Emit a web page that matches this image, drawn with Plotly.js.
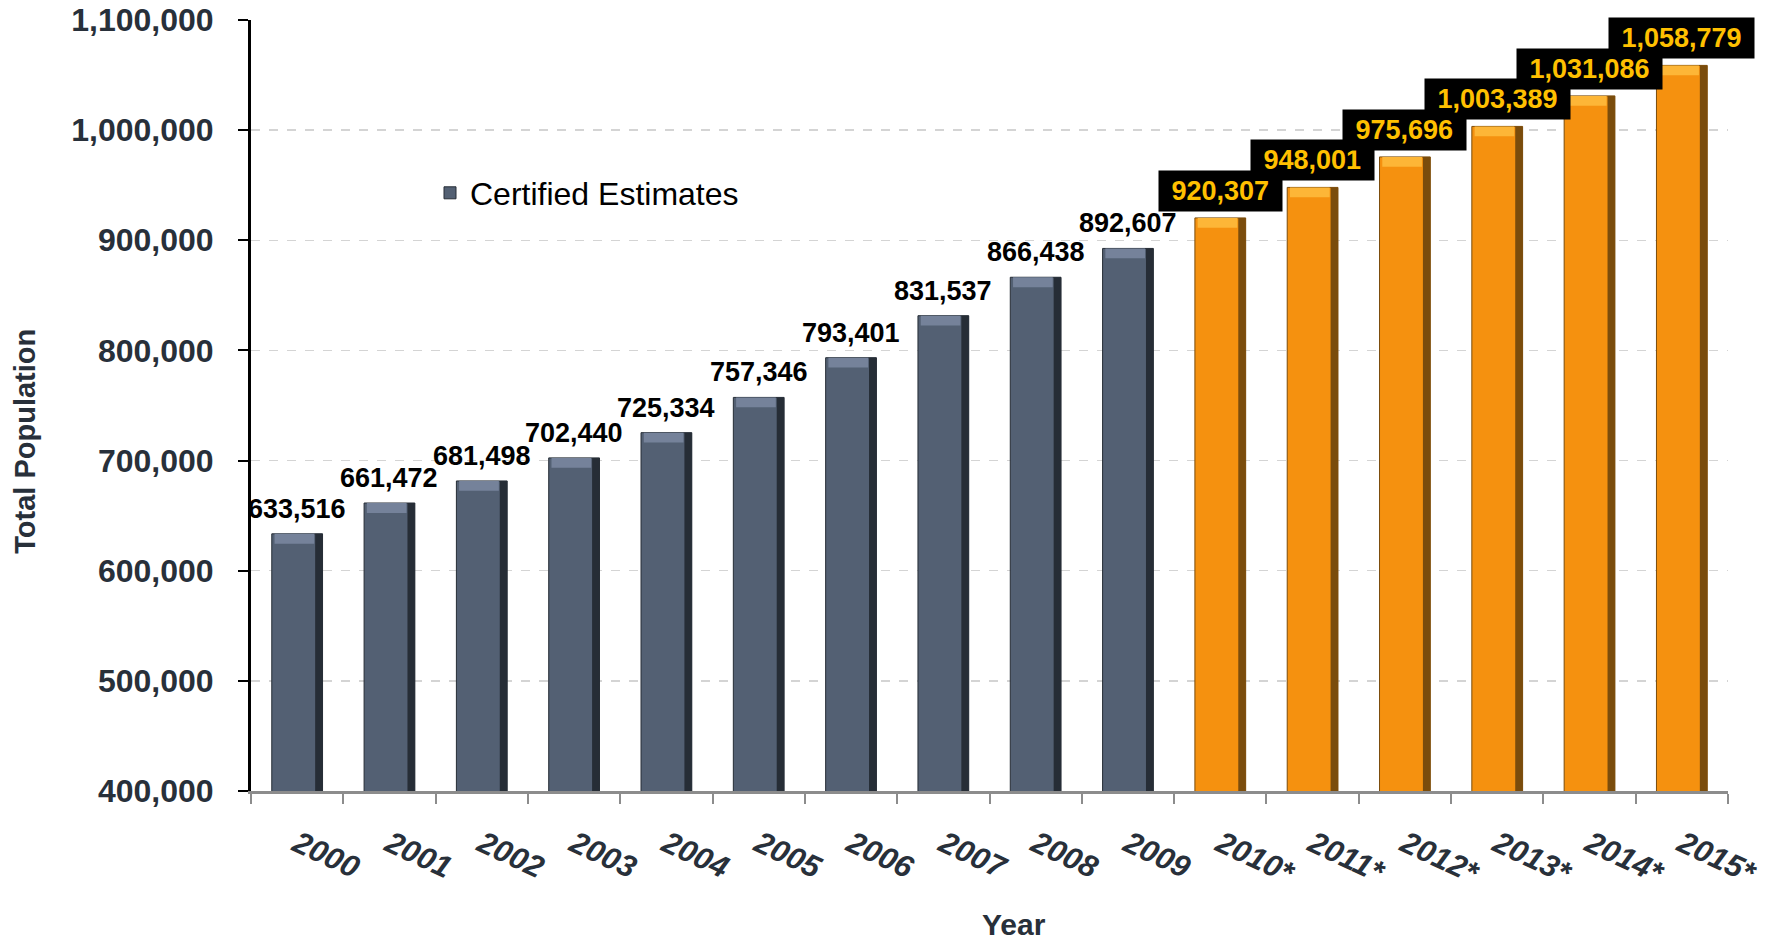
<!DOCTYPE html>
<html>
<head>
<meta charset="utf-8">
<script src="https://cdn.plot.ly/plotly-3.0.1.min.js"></script>
<style>html,body{margin:0;padding:0;background:#fff;}#chart{width:1781px;height:945px;}</style>
</head>
<body>
<div id="chart"></div>
<script>
// ---- data ----
const certifiedYears = ["2000","2001","2002","2003","2004","2005","2006","2007","2008","2009"];
const certifiedValues = [633516, 661472, 681498, 702440, 725334, 757346, 793401, 831537, 866438, 892607];
const projectedYears = ["2010*","2011*","2012*","2013*","2014*","2015*"];
const projectedValues = [920307, 948001, 975696, 1003389, 1031086, 1058779];
const allYears = certifiedYears.concat(projectedYears);
const yTickValues = [400000, 500000, 600000, 700000, 800000, 900000, 1000000, 1100000];

// ---- style ----
const BAR_W = 0.55;
const EDGE_W = 0.08;
const BEVEL = 9000;
const TEXT_DARK = "#28303a";
const FONT = "Liberation Sans, Arial, sans-serif";
const fmt = v => v.toLocaleString("en-US");

function barSet(xs, ys, main, edge, top, name, showLegend) {
  return [
    {type: "bar", x: xs, y: ys, name: name, showlegend: showLegend, width: BAR_W,
     marker: {color: main, line: {color: edge, width: 1}}, hoverinfo: "x+y"},
    {type: "bar", x: xs, y: ys, showlegend: false, width: EDGE_W, offset: BAR_W/2 - EDGE_W,
     marker: {color: edge, line: {width: 0}}, hoverinfo: "skip"},
    {type: "bar", x: xs, y: ys.map(() => BEVEL), base: ys.map(v => v - BEVEL), showlegend: false,
     width: BAR_W - 0.12, offset: -BAR_W/2 + 0.03, marker: {color: top, line: {width: 0}}, hoverinfo: "skip"}
  ];
}

const traces = [].concat(
  barSet(certifiedYears, certifiedValues, "#536073", "#262d36", "#75829a", "Certified Estimates", true),
  barSet(projectedYears, projectedValues, "#F5910F", "#7a4c0c", "#FDB637", "Projected", false)
);

// category position of each year on the category axis
const catIndex = yr => allYears.indexOf(yr);

const annotations = [];
certifiedYears.forEach((yr, i) => {
  annotations.push({x: catIndex(yr), y: certifiedValues[i], text: fmt(certifiedValues[i]), showarrow: false,
    xanchor: "center", yanchor: "bottom", yshift: 8, font: {family: FONT, size: 27, color: "#000", weight: "bold"}});
});
projectedYears.forEach((yr, i) => {
  annotations.push({x: catIndex(yr), y: projectedValues[i], text: "&nbsp;<b>" + fmt(projectedValues[i]) + "</b>&nbsp;", showarrow: false,
    xanchor: "center", yanchor: "bottom", yshift: 6, bgcolor: "#000", borderpad: 5,
    font: {family: FONT, size: 27, color: "#FFC000"}});
});
annotations.push({xref: "paper", yref: "paper", x: -0.153, y: 0.453, xanchor: "center", yanchor: "middle",
  text: "<b>Total Population</b>", textangle: -90,
  showarrow: false, font: {family: FONT, size: 29, color: TEXT_DARK}});
annotations.push({xref: "paper", yref: "paper", x: 0.5166, y: -0.1735, xanchor: "center", yanchor: "middle",
  text: "<b>Year</b>", showarrow: false, font: {family: FONT, size: 30, color: TEXT_DARK}});

const layout = {
  width: 1781, height: 945,
  margin: {l: 251, r: 53, t: 20, b: 154},
  paper_bgcolor: "#fff", plot_bgcolor: "#fff",
  barmode: "overlay",
  showlegend: true,
  legend: {x: 0.1212, y: 0.7756, yanchor: "middle", xanchor: "left", bgcolor: "rgba(0,0,0,0)",
    font: {family: FONT, size: 32, color: "#000"}},
  xaxis: {
    type: "category", categoryorder: "array", categoryarray: allYears,
    range: [-0.5, allYears.length - 0.5], autorange: false,
    tickangle: 25, tickson: "boundaries", ticks: "outside", ticklen: 10, tickwidth: 2, tickcolor: "#8c8c8c",
    showline: true, linecolor: "#8c8c8c", linewidth: 3, showgrid: false, ticklabelstandoff: 20,
    tickfont: {family: FONT, size: 31, color: TEXT_DARK, weight: "bold", style: "italic"}
  },
  yaxis: {
    range: [400000, 1100000], autorange: false, tickvals: yTickValues, tickformat: ",d",
    ticks: "outside", ticklen: 10, tickwidth: 2, tickcolor: "#000",
    showline: true, linecolor: "#000", linewidth: 3,
    showgrid: true, gridcolor: "#d4d4d4", griddash: "dash", gridwidth: 1.5, zeroline: false,
    ticklabelstandoff: 18,
    tickfont: {family: FONT, size: 32, color: TEXT_DARK, weight: "bold"}
  },
  annotations: annotations
};

Plotly.newPlot("chart", traces, layout, {displayModeBar: false, staticPlot: true});
</script>
</body>
</html>
